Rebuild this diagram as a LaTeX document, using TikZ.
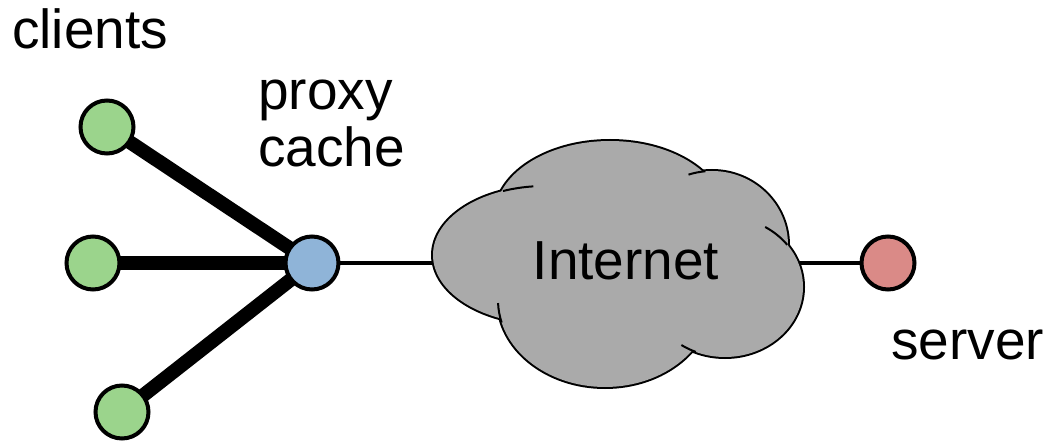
\documentclass[tikz,border=0pt]{standalone}
\usepackage{fontspec}
\setmainfont{Liberation Sans}
\pgfdeclarelayer{bg}
\pgfsetlayers{bg,main}
\definecolor{clientgreen}{RGB}{155,212,140}
\definecolor{proxyblue}{RGB}{143,180,216}
\definecolor{serverred}{RGB}{218,138,135}
\definecolor{cloudgray}{RGB}{170,170,170}
\begin{document}
\begin{tikzpicture}[x=1pt,y=1pt,
  hostnode/.style={circle,draw=black,line width=4pt,minimum size=53pt,inner sep=0pt},
  textlbl/.style={font=\fontsize{55}{58}\selectfont,inner sep=0pt},
  thicklink/.style={line width=14pt},
  thinlink/.style={line width=3.5pt},
  tail/.style={line width=2pt}]
\useasboundingbox (0,0) rectangle (1047,442);
% cloud: stroked lobes, then union fill on top
\draw[line width=4pt]
  (610,226) ellipse [x radius=115pt, y radius=75pt]
  (545,187) ellipse [x radius=112pt, y radius=69pt]
  (712,197) ellipse [x radius=76pt, y radius=74pt]
  (725,155) ellipse [x radius=78pt, y radius=70pt]
  (605,142) ellipse [x radius=107pt, y radius=87pt];
\fill[cloudgray]
  (610,226) ellipse [x radius=115pt, y radius=75pt]
  (545,187) ellipse [x radius=112pt, y radius=69pt]
  (712,197) ellipse [x radius=76pt, y radius=74pt]
  (725,155) ellipse [x radius=78pt, y radius=70pt]
  (605,142) ellipse [x radius=107pt, y radius=87pt];
% lobe tails
\draw[tail] (545,187) ++(112:112pt and 69pt) arc[start angle=112, end angle=96, x radius=112pt, y radius=69pt];
\draw[tail] (712,197) ++(95:76pt and 74pt) arc[start angle=95, end angle=108, x radius=76pt, y radius=74pt];
\draw[tail] (725,155) ++(37:78pt and 70pt) arc[start angle=37, end angle=59, x radius=78pt, y radius=70pt];
\draw[tail] (725,155) ++(-112:78pt and 70pt) arc[start angle=-112, end angle=-124, x radius=78pt, y radius=70pt];
\draw[tail] (605,142) ++(195:107pt and 87pt) arc[start angle=195, end angle=182, x radius=107pt, y radius=87pt];
\node[textlbl,anchor=base] (internet) at (626,162) {Internet};
\coordinate (cloudL) at (470,179);
\coordinate (cloudR) at (780,179);
% hosts
\node[hostnode,fill=clientgreen] (c1) at (107,315) {};
\node[hostnode,fill=clientgreen] (c2) at (93,179) {};
\node[hostnode,fill=clientgreen] (c3) at (122,30) {};
\node[hostnode,fill=proxyblue] (proxy) at (312,179) {};
\node[hostnode,fill=serverred] (server) at (888,179) {};
% links
\begin{pgfonlayer}{bg}
\draw[thicklink] (c1.center) -- (proxy.center);
\draw[thicklink] (c2.center) -- (proxy.center);
\draw[thicklink] (c3.center) -- (proxy.center);
\draw[thinlink] (proxy.center) -- (cloudL);
\draw[thinlink] (cloudR) -- (server.center);
\end{pgfonlayer}
% labels
\node[textlbl,anchor=base west] (clientslbl) at (12,393) {clients};
\node[textlbl,anchor=base west] (proxylbl) at (258,332) {proxy};
\node[textlbl,anchor=base west] (cachelbl) at (258,275) {cache};
\node[textlbl,anchor=base west] (serverlbl) at (891,82) {server};
\end{tikzpicture}
\end{document}
